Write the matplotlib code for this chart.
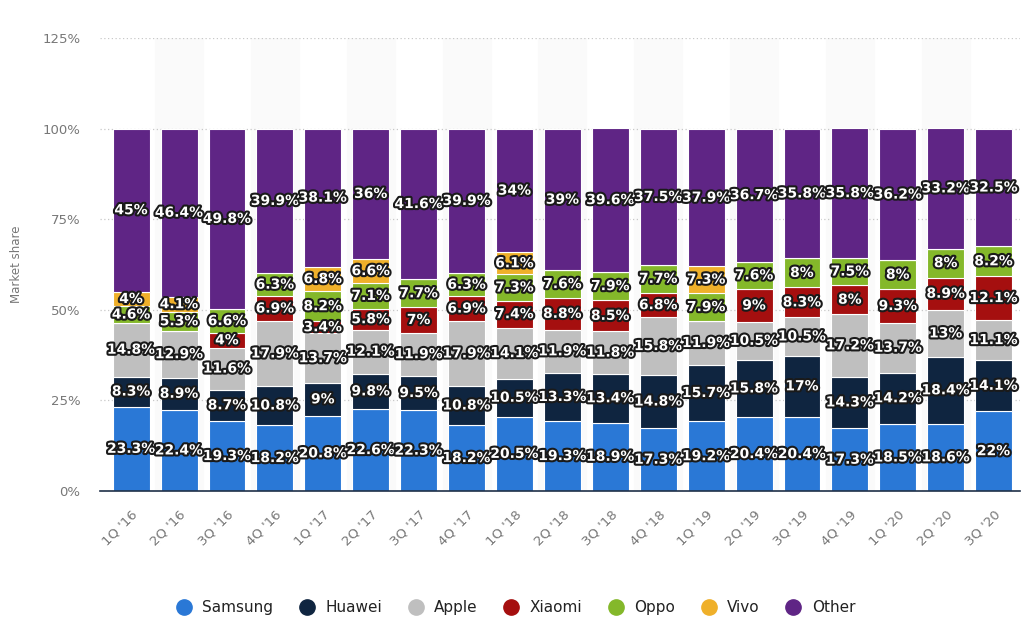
import numpy as np
import matplotlib.pyplot as plt
import matplotlib.patheffects as pe

quarters = ["1Q '16", "2Q '16", "3Q '16", "4Q '16", "1Q '17", "2Q '17", "3Q '17",
            "4Q '17", "1Q '18", "2Q '18", "3Q '18", "4Q '18", "1Q '19", "2Q '19",
            "3Q '19", "4Q '19", "1Q '20", "2Q '20", "3Q '20"]

# 0 = no share reported for that quarter
samsung = [23.3, 22.4, 19.3, 18.2, 20.8, 22.6, 22.3, 18.2, 20.5, 19.3, 18.9, 17.3, 19.2, 20.4, 20.4, 17.3, 18.5, 18.6, 22]
huawei = [8.3, 8.9, 8.7, 10.8, 9, 9.8, 9.5, 10.8, 10.5, 13.3, 13.4, 14.8, 15.7, 15.8, 17, 14.3, 14.2, 18.4, 14.1]
apple = [14.8, 12.9, 11.6, 17.9, 13.7, 12.1, 11.9, 17.9, 14.1, 11.9, 11.8, 15.8, 11.9, 10.5, 10.5, 17.2, 13.7, 13, 11.1]
xiaomi = [0, 0, 4, 6.9, 3.4, 5.8, 7, 6.9, 7.4, 8.8, 8.5, 6.8, 0, 9, 8.3, 8, 9.3, 8.9, 12.1]
oppo = [4.6, 5.3, 6.6, 6.3, 8.2, 7.1, 7.7, 6.3, 7.3, 7.6, 7.9, 7.7, 7.9, 7.6, 8, 7.5, 8, 8, 8.2]
vivo = [4, 4.1, 0, 0, 6.8, 6.6, 0, 0, 6.1, 0, 0, 0, 7.3, 0, 0, 0, 0, 0, 0]
other = [45, 46.4, 49.8, 39.9, 38.1, 36, 41.6, 39.9, 34, 39, 39.6, 37.5, 37.9, 36.7, 35.8, 35.8, 36.2, 33.2, 32.5]

brands = ["Samsung", "Huawei", "Apple", "Xiaomi", "Oppo", "Vivo", "Other"]
series = [samsung, huawei, apple, xiaomi, oppo, vivo, other]
colors = ["#2a78d6", "#0f2540", "#bfbfbf", "#a50f0f", "#84b82a", "#efb02a", "#5f2585"]

fig = plt.figure(figsize=(10.24, 6.2), dpi=100)
ax = fig.add_axes([100 / 1024, 0.208, 920 / 1024, 0.7306])

x = np.arange(len(quarters))

# faint alternating column bands
for i in x[1::2]:
    ax.axvspan(i - 0.5, i + 0.5, color="#fafafa", zorder=0)

bottom = np.zeros(len(quarters))
stroke = [pe.withStroke(linewidth=3, foreground="#1a1a1a")]
for name, vals, col in zip(brands, series, colors):
    vals = np.array(vals, dtype=float)
    ax.bar(x, vals, 0.77, bottom=bottom, color=col, edgecolor="white",
           linewidth=0.8, label=name, zorder=2)
    for xi, b, v in zip(x, bottom, vals):
        if v > 0:
            ax.text(xi, b + v / 2, f"{v:g}%", ha="center", va="center",
                    fontsize=10, fontweight="bold", color="white",
                    path_effects=stroke, zorder=5)
    bottom += vals

ax.set_xlim(-0.65, 18.55)
ax.set_ylim(0, 125)
ax.set_yticks([0, 25, 50, 75, 100, 125])
ax.set_yticklabels(["0%", "25%", "50%", "75%", "100%", "125%"])
ax.yaxis.grid(True, linestyle=(0, (1, 2)), color="#c8c8c8", linewidth=0.9, zorder=1)
ax.set_axisbelow(True)

ax.set_xticks(x)
ax.set_xticklabels(quarters, rotation=45, ha="right", rotation_mode="anchor")
ax.tick_params(axis="both", length=0, colors="#777777", labelsize=9.5)
ax.tick_params(axis="x", pad=12)
ax.tick_params(axis="y", pad=14)

for s in ["top", "right", "left"]:
    ax.spines[s].set_visible(False)
ax.spines["bottom"].set_color("#1f3048")
ax.spines["bottom"].set_linewidth(1.2)

ax.set_ylabel("Market share", color="#777777", fontsize=8.5, labelpad=14)

handles = [plt.Line2D([], [], marker="o", linestyle="", markersize=11,
                      markerfacecolor=c, markeredgecolor=c) for c in colors]
fig.legend(handles, brands, loc="center", bbox_to_anchor=(0.5, 0.02), ncol=7,
           frameon=False, fontsize=11, handletextpad=0.2, columnspacing=1.2,
           labelcolor="#222222")

fig.savefig("out.png", dpi=100)
